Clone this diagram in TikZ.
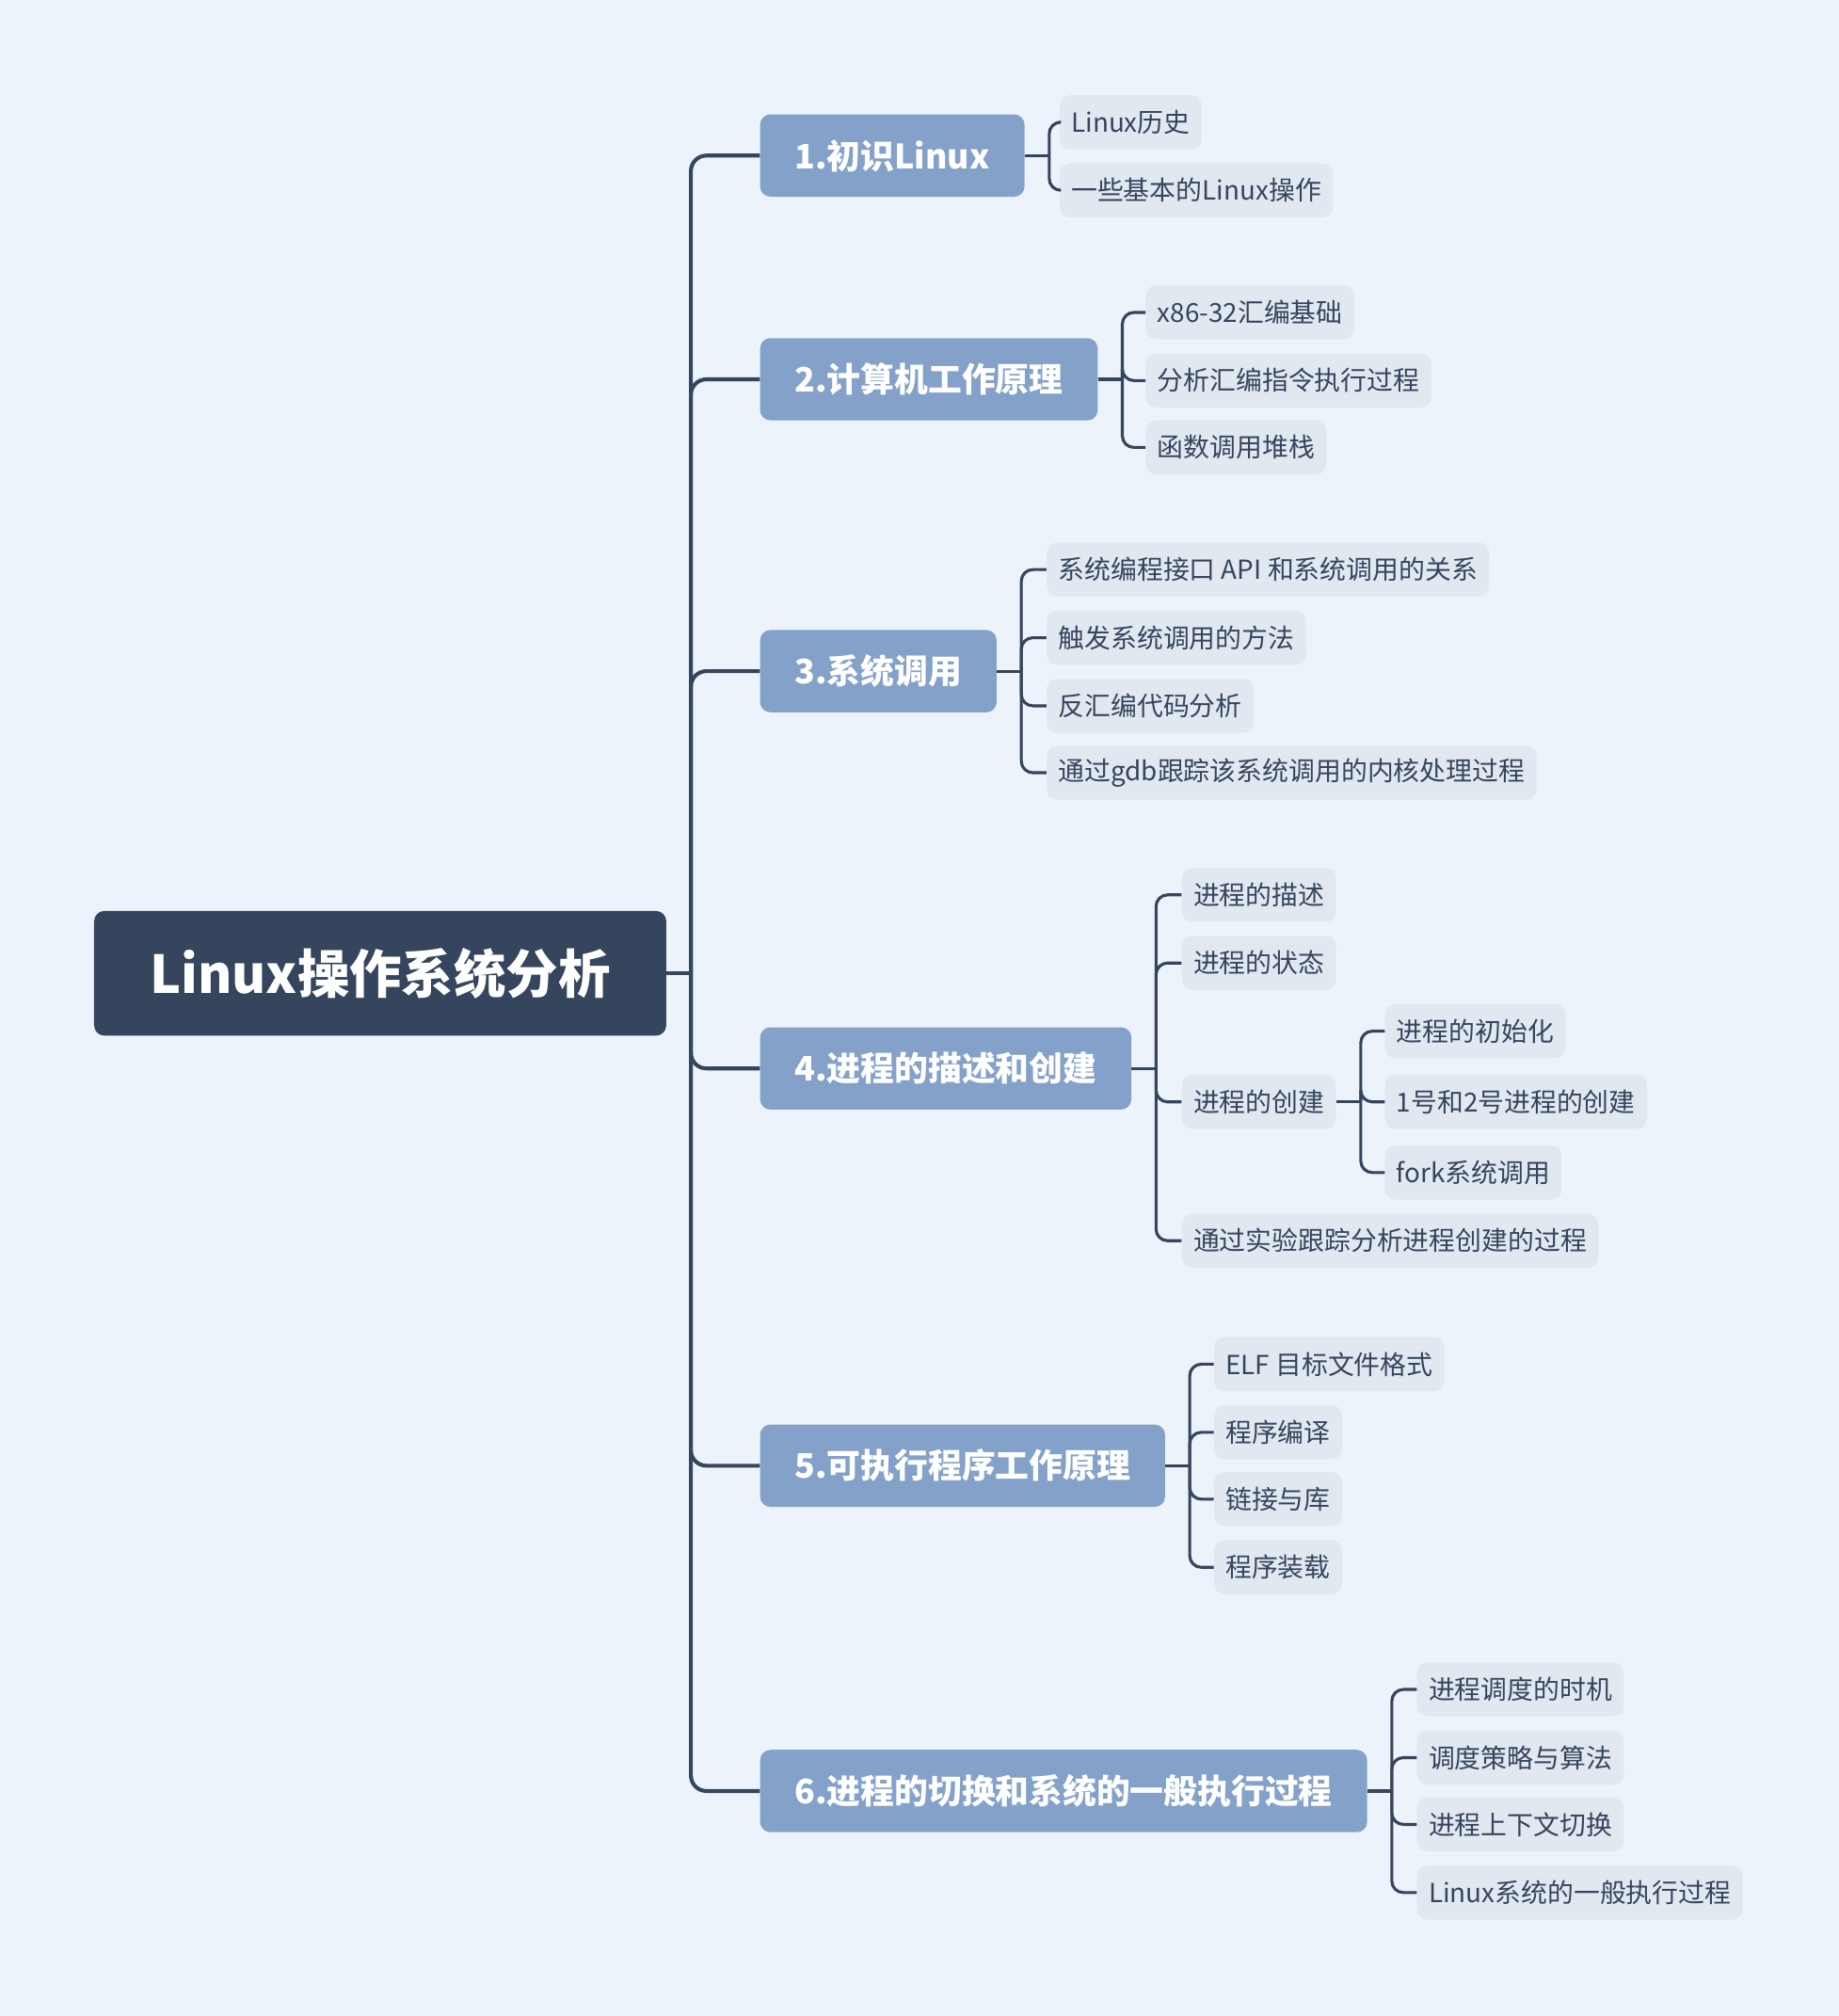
\documentclass[tikz,border=0pt]{standalone}
\usepackage{fontspec}
\setmainfont{Noto Sans CJK SC}
\usetikzlibrary{calc}
\definecolor{bgc}{HTML}{ECF3FA}
\definecolor{darkc}{HTML}{34455D}
\definecolor{topicc}{HTML}{84A2C9}
\definecolor{subc}{HTML}{E1E8F0}
\tikzset{
  rootbox/.style={fill=darkc, text=white, rounded corners=8pt, minimum width=445pt, minimum height=97pt, inner sep=0pt, anchor=west, font=\fontsize{40.6pt}{48pt}\selectfont\bfseries},
  topicbox/.style={fill=topicc, text=white, rounded corners=8pt, minimum height=64pt, inner xsep=27pt, inner ysep=0pt, anchor=west, font=\fontsize{26.2pt}{31pt}\selectfont\bfseries},
  subbox/.style={fill=subc, text=darkc, rounded corners=8pt, minimum height=42pt, inner xsep=9pt, inner ysep=0pt, anchor=west, font=\fontsize{20.4pt}{24pt}\selectfont},
  trunk/.style={draw=darkc, line width=3pt, rounded corners=12pt},
  conn/.style={draw=darkc, line width=2.3pt, rounded corners=9pt}
}
\begin{document}
\begin{tikzpicture}[x=1pt, y=-1pt]
\fill[bgc] (0,0) rectangle (1430,1568);
\useasboundingbox (0,0) rectangle (1430,1568);

% root
\node[rootbox] (root) at (73,757) {Linux操作系统分析};

% topics
\node[topicbox] (t1) at (591,121) {1.初识Linux};
\node[topicbox] (t2) at (591,295) {2.计算机工作原理};
\node[topicbox] (t3) at (591,522) {3.系统调用};
\node[topicbox] (t4) at (591,831) {4.进程的描述和创建};
\node[topicbox] (t5) at (591,1140) {5.可执行程序工作原理};
\node[topicbox] (t6) at (591,1393) {6.进程的切换和系统的一般执行过程};

% topic 1 children
\node[subbox] (s11) at (824,95) {Linux历史};
\node[subbox] (s12) at (824,148) {一些基本的Linux操作};
% topic 2 children
\node[subbox] (s21) at (891,243) {x86-32汇编基础};
\node[subbox] (s22) at (891,296) {分析汇编指令执行过程};
\node[subbox] (s23) at (891,348) {函数调用堆栈};
% topic 3 children
\node[subbox] (s31) at (814,443) {系统编程接口 API 和系统调用的关系};
\node[subbox] (s32) at (814,496) {触发系统调用的方法};
\node[subbox] (s33) at (814,549) {反汇编代码分析};
\node[subbox] (s34) at (814,601) {通过gdb跟踪该系统调用的内核处理过程};
% topic 4 children
\node[subbox] (s41) at (919,696) {进程的描述};
\node[subbox] (s42) at (919,749) {进程的状态};
\node[subbox] (s43) at (919,857) {进程的创建};
\node[subbox] (s44) at (919,965) {通过实验跟踪分析进程创建的过程};
\node[subbox] (s431) at (1077,802) {进程的初始化};
\node[subbox] (s432) at (1077,857) {1号和2号进程的创建};
\node[subbox] (s433) at (1077,912) {fork系统调用};
% topic 5 children
\node[subbox] (s51) at (944,1061) {ELF 目标文件格式};
\node[subbox] (s52) at (944,1114) {程序编译};
\node[subbox] (s53) at (944,1166) {链接与库};
\node[subbox] (s54) at (944,1219) {程序装载};
% topic 6 children
\node[subbox] (s61) at (1102,1314) {进程调度的时机};
\node[subbox] (s62) at (1102,1367) {调度策略与算法};
\node[subbox] (s63) at (1102,1419) {进程上下文切换};
\node[subbox] (s64) at (1102,1472) {Linux系统的一般执行过程};

% trunk
\coordinate (tr) at ($(root.east)+(19,0)$);
\draw[trunk] (root.east) -- (tr);
\foreach \t in {t1,t2,t3,t4,t5,t6} \draw[trunk] (tr) |- (\t.west);

% branches
\coordinate (b1) at ($(t1.east)+(19,0)$);
\draw[conn] (t1.east) -- (b1);
\foreach \c in {s11,s12} \draw[conn] (b1) |- (\c.west);

\coordinate (b2) at ($(t2.east)+(19,0)$);
\draw[conn] (t2.east) -- (b2);
\foreach \c in {s21,s22,s23} \draw[conn] (b2) |- (\c.west);

\coordinate (b3) at ($(t3.east)+(19,0)$);
\draw[conn] (t3.east) -- (b3);
\foreach \c in {s31,s32,s33,s34} \draw[conn] (b3) |- (\c.west);

\coordinate (b4) at ($(t4.east)+(19,0)$);
\draw[conn] (t4.east) -- (b4);
\foreach \c in {s41,s42,s43,s44} \draw[conn] (b4) |- (\c.west);

\coordinate (b43) at ($(s43.east)+(19,0)$);
\draw[conn] (s43.east) -- (b43);
\foreach \c in {s431,s432,s433} \draw[conn] (b43) |- (\c.west);

\coordinate (b5) at ($(t5.east)+(19,0)$);
\draw[conn] (t5.east) -- (b5);
\foreach \c in {s51,s52,s53,s54} \draw[conn] (b5) |- (\c.west);

\coordinate (b6) at ($(t6.east)+(19,0)$);
\draw[conn] (t6.east) -- (b6);
\foreach \c in {s61,s62,s63,s64} \draw[conn] (b6) |- (\c.west);
\end{tikzpicture}
\end{document}
